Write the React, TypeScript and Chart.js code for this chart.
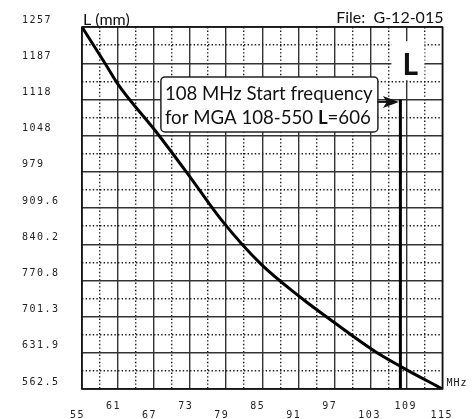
import React, { useEffect, useRef } from 'react';
import { Chart, registerables } from 'chart.js';

Chart.register(...registerables);

// Curve: antenna element length L (mm) vs start frequency (MHz)
const frequencyMHz = [55, 58.8, 61, 67.4, 73, 78.2, 84.8, 91.3, 97, 103.6, 108, 115];
const lengthMm = [1257, 1188, 1147, 1055, 969, 887, 802, 739, 690, 636, 606, 562.5];

// Axis ticks
const xTickValues = [55, 61, 67, 73, 79, 85, 91, 97, 103, 109, 115];
const xTickLabels = ['55', '61', '67', '73', '79', '85', '91', '97', '103', '109', '115'];
const yTickValues = [562.5, 631.95, 701.4, 770.85, 840.3, 909.75, 979.2, 1048.65, 1118.1, 1187.55, 1257];
const yTickLabels = ['562.5', '631.9', '701.3', '770.8', '840.2', '909.6', '979', '1048', '1118', '1187', '1257'];

// Marker
const startFreq = 108;
const startLength = 606;
const markerTopLength = 1118.1;

const titleLeft = 'L (mm)';
const titleRight = 'File:  G-12-015';
const xUnit = 'MHz';
const boxLine1 = '108 MHz Start frequency';
const boxLine2a = 'for MGA 108-550 ';
const boxLine2b = 'L';
const boxLine2c = '=' + startLength;

const mid = (arr: number[]) => arr.slice(0, -1).map((v, i) => (v + arr[i + 1]) / 2);

const TICK_FONT = { family: 'DejaVu Sans Mono', size: 10, lineHeight: 0.9 };

const decorPlugin = {
  id: 'decor',
  beforeDraw(chart: any) {
    chart.ctx.letterSpacing = '1.5px';
  },
  beforeDatasetsDraw(chart: any) {
    chart.ctx.letterSpacing = '0px';
  },
  afterDraw(chart: any) {
    const { ctx, chartArea: a, scales } = chart;
    const xs = scales.x;
    const ys = scales.y;
    ctx.save();
    ctx.letterSpacing = '0px';

    // frame
    ctx.strokeStyle = '#111';
    ctx.lineWidth = 1.6;
    ctx.strokeRect(a.left, a.top, a.right - a.left, a.bottom - a.top);

    // titles
    ctx.fillStyle = '#111';
    ctx.font = '16px Lato';
    ctx.textBaseline = 'alphabetic';
    ctx.textAlign = 'left';
    ctx.fillText(titleLeft, a.left + 1, a.top - 2);
    ctx.textAlign = 'right';
    ctx.fillText(titleRight, a.right + 1, a.top - 4);

    // unit
    ctx.letterSpacing = '1px';
    ctx.font = '10px "DejaVu Sans Mono"';
    ctx.textAlign = 'left';
    ctx.textBaseline = 'middle';
    ctx.fillText(xUnit, a.right + 4, a.bottom - 6);
    ctx.letterSpacing = '0px';

    // big L with white backing
    const lx = xs.getPixelForValue(109);
    const ly = ys.getPixelForValue(1187.55);
    ctx.fillStyle = '#fff';
    ctx.fillRect(lx - 15, ly - 22, 33, 39);
    ctx.fillStyle = '#111';
    ctx.font = 'bold 30px Lato';
    ctx.textAlign = 'left';
    ctx.textBaseline = 'alphabetic';
    ctx.fillText(boxLine2b, lx - 4, ly + 12);

    // annotation box
    const tipX = xs.getPixelForValue(startFreq) - 1.5;
    const arrowY = ys.getPixelForValue(markerTopLength) + 2.5;
    const bx = tipX - 238;
    const by = arrowY - 25;
    const bw = 217;
    const bh = 55;
    ctx.beginPath();
    (ctx as any).roundRect(bx, by, bw, bh, 4);
    ctx.fillStyle = '#fff';
    ctx.fill();
    ctx.lineWidth = 1.5;
    ctx.strokeStyle = '#222';
    ctx.stroke();

    // fit text to 208px
    ctx.font = '20px Lato';
    const w1 = ctx.measureText(boxLine1).width;
    const fs = (20 * 208) / w1;

    ctx.fillStyle = '#111';
    ctx.textAlign = 'left';
    ctx.textBaseline = 'alphabetic';
    ctx.font = `${fs}px Lato`;
    ctx.fillText(boxLine1, bx + 4, by + 23);
    let tx = bx + 4;
    ctx.fillText(boxLine2a, tx, by + 47);
    tx += ctx.measureText(boxLine2a).width;
    ctx.font = `bold ${fs}px Lato`;
    ctx.fillText(boxLine2b, tx, by + 47);
    tx += ctx.measureText(boxLine2b).width;
    ctx.font = `${fs}px Lato`;
    ctx.fillText(boxLine2c, tx, by + 47);

    // arrow
    ctx.strokeStyle = '#111';
    ctx.lineWidth = 2;
    ctx.beginPath();
    ctx.moveTo(bx + bw, arrowY);
    ctx.lineTo(tipX - 8, arrowY);
    ctx.stroke();
    ctx.beginPath();
    ctx.moveTo(tipX - 16, arrowY - 6);
    ctx.lineTo(tipX, arrowY);
    ctx.lineTo(tipX - 16, arrowY + 6);
    ctx.lineTo(tipX - 12, arrowY);
    ctx.closePath();
    ctx.fill();

    ctx.restore();
  },
};

export default function App() {
  const ref = useRef<HTMLCanvasElement>(null);

  useEffect(() => {
    if (!ref.current) return;
    const chart = new Chart(ref.current, {
      type: 'line',
      data: {
        datasets: [
          {
            data: frequencyMHz.map((f, i) => ({ x: f, y: lengthMm[i] })),
            borderColor: '#000',
            borderWidth: 3,
            pointRadius: 0,
            cubicInterpolationMode: 'monotone',
            fill: false,
          },
          {
            data: [
              { x: startFreq, y: markerTopLength },
              { x: startFreq, y: 562.5 },
            ],
            borderColor: '#000',
            borderWidth: 3,
            pointRadius: 0,
            tension: 0,
            fill: false,
          },
        ],
      },
      options: {
        responsive: false,
        animation: false,
        layout: { padding: { left: 22, top: 27, right: 27, bottom: 0 } },
        plugins: { legend: { display: false }, tooltip: { enabled: false } },
        scales: {
          x2: {
            type: 'linear',
            position: 'bottom',
            min: 55,
            max: 115,
            afterBuildTicks: (s: any) => {
              s.ticks = mid(xTickValues).map((v) => ({ value: v }));
            },
            afterFit: (s: any) => {
              s.height = 0;
            },
            ticks: { display: false },
            grid: { color: '#1a1a1a', lineWidth: 1.4, drawTicks: false },
            border: { display: false, dash: [1.4, 2.2] },
          },
          y2: {
            type: 'linear',
            position: 'left',
            min: 562.5,
            max: 1257,
            afterBuildTicks: (s: any) => {
              s.ticks = mid(yTickValues).map((v) => ({ value: v }));
            },
            afterFit: (s: any) => {
              s.width = 0;
            },
            ticks: { display: false },
            grid: { color: '#1a1a1a', lineWidth: 1.4, drawTicks: false },
            border: { display: false, dash: [1.4, 2.2] },
          },
          x: {
            type: 'linear',
            position: 'bottom',
            min: 55,
            max: 115,
            afterBuildTicks: (s: any) => {
              s.ticks = xTickValues.map((v) => ({ value: v }));
            },
            afterFit: (s: any) => {
              s.height = 30;
            },
            ticks: {
              autoSkip: false,
              maxRotation: 0,
              align: 'start',
              labelOffset: -12,
              padding: 12.5,
              color: '#222',
              font: TICK_FONT,
              callback: (_v: any, i: number) => (i % 2 === 0 ? ['', xTickLabels[i]] : [xTickLabels[i]]),
            },
            grid: { color: '#333', lineWidth: 1.4, drawTicks: false },
            border: { display: false },
          },
          y: {
            type: 'linear',
            position: 'left',
            min: 562.5,
            max: 1257,
            afterBuildTicks: (s: any) => {
              s.ticks = yTickValues.map((v) => ({ value: v }));
            },
            afterFit: (s: any) => {
              s.width = 60;
            },
            ticks: {
              autoSkip: false,
              crossAlign: 'far',
              labelOffset: -7,
              color: '#222',
              font: TICK_FONT,
              callback: (_v: any, i: number) => yTickLabels[i],
            },
            grid: { color: '#333', lineWidth: 1.4, drawTicks: false },
            border: { display: false },
          },
        },
      } as any,
      plugins: [decorPlugin],
    });
    return () => chart.destroy();
  }, []);

  return (
    <div style={{ position: 'fixed', left: 0, top: 0, width: 473, height: 419, background: '#fff' }}>
      <canvas ref={ref} width={473} height={419} style={{ width: 473, height: 419, display: 'block' }} />
    </div>
  );
}
